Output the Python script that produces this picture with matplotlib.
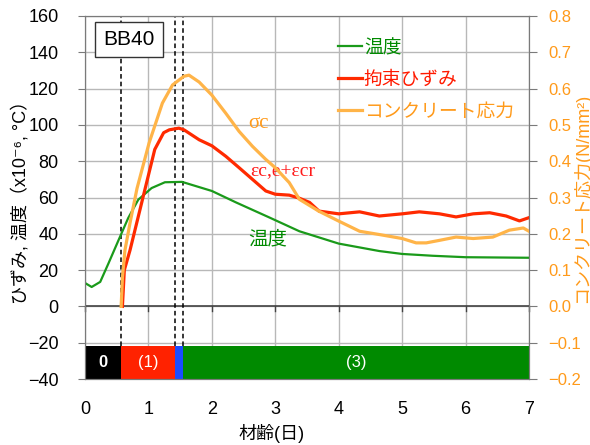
import matplotlib
matplotlib.use("Agg")
import matplotlib.pyplot as plt

plt.rcParams['font.family'] = ['Liberation Sans', 'DejaVu Sans', 'Noto Sans CJK JP']

# temperature (degC)
temp_t = [0.0, 0.105, 0.24, 0.37, 0.53, 0.68, 0.84, 1.05, 1.26, 1.53, 2.0, 2.38,
          2.9, 3.38, 4.0, 4.64, 5.0, 5.48, 6.0, 7.0]
temp_v = [12.9, 10.7, 13.5, 23.7, 36.6, 48.6, 58.8, 65.2, 68.4, 68.6, 63.6, 57.3,
          49.1, 41.4, 34.6, 30.5, 28.9, 27.9, 27.1, 26.8]

# restraint strain (x10^-6)
strain_t = [0.59, 0.62, 0.71, 0.84, 0.97, 1.1, 1.24, 1.33, 1.48, 1.56, 1.80, 2.0,
            2.22, 2.43, 2.64, 2.85, 3.0, 3.22, 3.38, 3.54, 3.69, 4.0, 4.33, 4.64,
            5.0, 5.27, 5.59, 5.85, 6.12, 6.38, 6.64, 6.85, 7.0]
strain_v = [0.0, 20.0, 31.0, 49.5, 68.0, 86.5, 95.7, 97.3, 98.2, 97.3, 91.8, 88.5,
            82.7, 76.4, 70.0, 63.6, 61.8, 61.3, 59.6, 57.3, 52.5, 51.0, 52.1, 49.8,
            51.0, 52.1, 51.0, 49.3, 51.0, 51.6, 49.8, 47.1, 48.9]

# concrete stress (N/mm2)
stress_t = [0.57, 0.59, 0.63, 0.71, 0.82, 1.01, 1.22, 1.38, 1.56, 1.64, 1.80,
            2.0, 2.22, 2.43, 2.64, 2.85, 3.0, 3.22, 3.38, 3.69, 4.0, 4.33, 4.64, 5.0,
            5.22, 5.38, 5.59, 5.85, 6.12, 6.43, 6.69, 6.91, 7.0]
stress_v = [0.0, 0.08, 0.155, 0.23, 0.325, 0.45, 0.56, 0.61, 0.634, 0.637, 0.618,
            0.582, 0.532, 0.482, 0.441, 0.405, 0.382, 0.341, 0.295, 0.262, 0.235, 0.207,
            0.198, 0.187, 0.175, 0.175, 0.182, 0.191, 0.187, 0.191, 0.21, 0.216, 0.207]

# stage boundaries (days) and their bands
stage_edges = [0.0, 0.56, 1.42, 1.55, 7.0]
stage_colors = ['black', '#ff2200', '#1a4cff', '#008a00']
stage_labels = ['0', '(1)', '', '(3)']

c_temp = '#1a9a1a'
c_strain = '#ff2a00'
c_stress = '#ffb448'
c_axis2 = '#ff9a1a'

fig = plt.figure(figsize=(5.9, 4.45), dpi=100)
ax = fig.add_axes([85 / 590, 66 / 445, 444 / 590, 363 / 445])
ax2 = ax.twinx()

ax.set_xlim(0, 7)
ax.set_ylim(-40, 160)
ax2.set_ylim(-0.2, 0.8)
ax.set_xticks(range(0, 8))
ax.set_yticks(range(-40, 161, 20))
ax2.set_yticks([-0.2, -0.1, 0.0, 0.1, 0.2, 0.3, 0.4, 0.5, 0.6, 0.7, 0.8])
ax2.set_yticklabels([f"{v:.1f}".replace('-', '\u2212') for v in ax2.get_yticks()])
ax.set_yticklabels([str(v).replace('-', '\u2212') for v in range(-40, 161, 20)])

ax.set_axisbelow(True)
ax.grid(color='#b8b8b8', linewidth=1.0)
for s in ax.spines.values():
    s.set_color('#7a7a7a')
for s in ax2.spines.values():
    s.set_color('#7a7a7a')

ax.tick_params(axis='x', length=0, pad=16, labelsize=13)
ax.tick_params(axis='y', direction='out', length=5, color='#7a7a7a', pad=14, labelsize=13)
ax2.tick_params(axis='y', direction='out', length=6, color='#7a7a7a', pad=8,
                labelsize=12, labelcolor=c_axis2)

# zero line with its own small ticks
ax.axhline(0, color='#444444', linewidth=1.2, zorder=3)
for t in ax.get_xticks():
    ax.plot([t, t], [0, -2.5], color='#444444', linewidth=1.0, zorder=3, clip_on=False)

# stage bands along the bottom
for i in range(len(stage_colors)):
    left = stage_edges[i]
    w = stage_edges[i + 1] - left
    ax.bar(left, 18, width=w, bottom=-40, align='edge', color=stage_colors[i],
           zorder=2, linewidth=0)
    if stage_labels[i]:
        ax.text(left + w / 2, -31, stage_labels[i], color='white', fontsize=12,
                fontweight='bold' if stage_labels[i] == '0' else 'normal',
                ha='center', va='center', zorder=4)

ax.vlines(stage_edges[1:4], -22, 160, colors='black', linewidth=1.1,
          linestyles=(0, (3, 2)), zorder=3)

l_temp, = ax.plot(temp_t, temp_v, color=c_temp, linewidth=1.6, zorder=4)
l_strain, = ax.plot(strain_t, strain_v, color=c_strain, linewidth=2.3, zorder=4)
l_stress, = ax2.plot(stress_t, stress_v, color=c_stress, linewidth=2.3, zorder=4)

ax.text(2.57, 101, 'σc', color='#ff9a1a', fontsize=15, family='Liberation Serif',
        ha='left', va='center')
ax.text(2.6, 74, 'εc,e+εcr', color='#ff1a1a', fontsize=14, family='Liberation Serif',
        ha='left', va='center')
ax.text(2.57, 37, '温度', color='#008a00', fontsize=14, ha='left', va='center')

ax.text(0.10, 0.935, 'BB40', transform=ax.transAxes, fontsize=15, ha='center', va='center',
        bbox=dict(boxstyle='square,pad=0.4', facecolor='white', edgecolor='#333333'))

leg = ax2.legend([l_temp, l_strain, l_stress], ['温度', '拘束ひずみ', 'コンクリート応力'],
                 loc='upper left', bbox_to_anchor=(0.569, 0.935), frameon=False,
                 fontsize=13.5, handlelength=1.3, handletextpad=0.1, borderpad=0,
                 borderaxespad=0, labelspacing=0.78)
for txt, c in zip(leg.get_texts(), ['#008a00', '#ff1a00', c_axis2]):
    txt.set_color(c)

ax.set_xlabel('材齢(日)', fontsize=13)
ax.xaxis.set_label_coords(0.42, -0.125)
ax.set_ylabel('ひずみ, 温度（x10⁻⁶, °C）', fontsize=13)
ax.yaxis.set_label_coords(-0.125, 0.5)
ax2.set_ylabel('コンクリート応力(N/mm²)', fontsize=13, color=c_axis2)
ax2.yaxis.set_label_coords(1.098, 0.5)

fig.savefig('out.png', dpi=100)
